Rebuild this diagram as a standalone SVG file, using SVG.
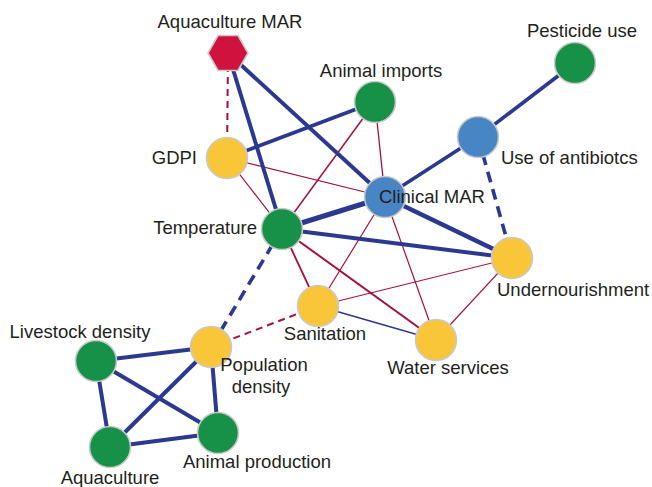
<svg xmlns="http://www.w3.org/2000/svg" width="652" height="487" viewBox="0 0 652 487">
<style>
.b{stroke:#2b3990;fill:none;stroke-linecap:butt}
.r{stroke:#a50f3f;fill:none}
.n{stroke:#c9c9c9;stroke-width:1.6}
.g{fill:#179147}.y{fill:#f9c63a}.u{fill:#4785c4}.h{fill:#d0123e}
text{font-family:"Liberation Sans",Arial,sans-serif;font-size:18.5px;fill:#231f20}
</style>
<rect width="652" height="487" fill="#fff"/>
<g id="connectors">
<line class="r" x1="228" y1="53" x2="227" y2="158" stroke-width="2" stroke-dasharray="7,5"/>
<line class="r" x1="227" y1="158" x2="385" y2="197" stroke-width="1.2"/>
<line class="r" x1="227" y1="158" x2="282" y2="229" stroke-width="1.2"/>
<line class="r" x1="375" y1="102" x2="282" y2="229" stroke-width="1.5"/>
<line class="r" x1="375" y1="102" x2="385" y2="197" stroke-width="1.3"/>
<line class="r" x1="282" y1="229" x2="318" y2="306" stroke-width="1.8"/>
<line class="r" x1="282" y1="229" x2="436" y2="340" stroke-width="2"/>
<line class="r" x1="385" y1="197" x2="318" y2="306" stroke-width="1.2"/>
<line class="r" x1="385" y1="197" x2="436" y2="340" stroke-width="1.2"/>
<line class="r" x1="318" y1="306" x2="512" y2="258" stroke-width="1.2"/>
<line class="r" x1="436" y1="340" x2="512" y2="258" stroke-width="1.2"/>
<line class="r" x1="211" y1="347" x2="318" y2="306" stroke-width="2" stroke-dasharray="7,5"/>
<line class="b" x1="318" y1="306" x2="436" y2="340" stroke-width="1.6"/>
<line class="b" x1="228" y1="53" x2="282" y2="229" stroke-width="4"/>
<line class="b" x1="228" y1="53" x2="385" y2="197" stroke-width="4"/>
<line class="b" x1="227" y1="158" x2="375" y2="102" stroke-width="3.6"/>
<line class="b" x1="575" y1="63" x2="478" y2="137" stroke-width="3.6"/>
<line class="b" x1="478" y1="137" x2="385" y2="197" stroke-width="3.6"/>
<line class="b" x1="478" y1="137" x2="512" y2="258" stroke-width="3.6" stroke-dasharray="11,7"/>
<line class="b" x1="282" y1="229" x2="385" y2="197" stroke-width="5"/>
<line class="b" x1="385" y1="197" x2="512" y2="258" stroke-width="4.5"/>
<line class="b" x1="282" y1="229" x2="512" y2="258" stroke-width="4"/>
<line class="b" x1="282" y1="229" x2="211" y2="347" stroke-width="3.6" stroke-dasharray="11,7"/>
<line class="b" x1="96" y1="361" x2="211" y2="347" stroke-width="4"/>
<line class="b" x1="96" y1="361" x2="110" y2="447" stroke-width="4"/>
<line class="b" x1="96" y1="361" x2="218" y2="433" stroke-width="4"/>
<line class="b" x1="110" y1="447" x2="211" y2="347" stroke-width="4"/>
<line class="b" x1="110" y1="447" x2="218" y2="433" stroke-width="4"/>
<line class="b" x1="211" y1="347" x2="218" y2="433" stroke-width="4"/>
</g>
<g id="aquaculture-mar"><polygon class="n h" points="208,53 218,35.5 238,35.5 248,53 238,70.5 218,70.5"/><text x="230" y="28" text-anchor="middle">Aquaculture MAR</text></g>
<g id="pesticide-use"><circle class="n g" cx="575" cy="63" r="20.5"/><text x="582" y="37" text-anchor="middle">Pesticide use</text></g>
<g id="animal-imports"><circle class="n g" cx="375" cy="102" r="20.5"/><text x="381" y="77" text-anchor="middle">Animal imports</text></g>
<g id="gdpi"><circle class="n y" cx="227" cy="158" r="20.5"/><text x="197" y="164" text-anchor="end">GDPI</text></g>
<g id="use-of-antibiotics"><circle class="n u" cx="478" cy="137" r="20.5"/><text x="501" y="164">Use of antibiotcs</text></g>
<g id="clinical-mar"><circle class="n u" cx="385" cy="197" r="20.5"/><text x="379" y="203">Clinical MAR</text></g>
<g id="temperature"><circle class="n g" cx="282" cy="229" r="20.5"/><text x="257" y="234" text-anchor="end">Temperature</text></g>
<g id="undernourishment"><circle class="n y" cx="512" cy="258" r="20.5"/><text x="497" y="296">Undernourishment</text></g>
<g id="sanitation"><circle class="n y" cx="318" cy="306" r="20.5"/><text x="325" y="340" text-anchor="middle">Sanitation</text></g>
<g id="water-services"><circle class="n y" cx="436" cy="340" r="20.5"/><text x="448" y="374" text-anchor="middle">Water services</text></g>
<g id="population-density"><circle class="n y" cx="211" cy="347" r="20.5"/><text x="264" y="371" text-anchor="middle">Population</text><text x="261" y="393" text-anchor="middle">density</text></g>
<g id="livestock-density"><circle class="n g" cx="96" cy="361" r="20.5"/><text x="80" y="338" text-anchor="middle">Livestock density</text></g>
<g id="aquaculture"><circle class="n g" cx="110" cy="447" r="20.5"/><text x="110" y="484" text-anchor="middle">Aquaculture</text></g>
<g id="animal-production"><circle class="n g" cx="218" cy="433" r="20.5"/><text x="257" y="468" text-anchor="middle">Animal production</text></g>
</svg>
